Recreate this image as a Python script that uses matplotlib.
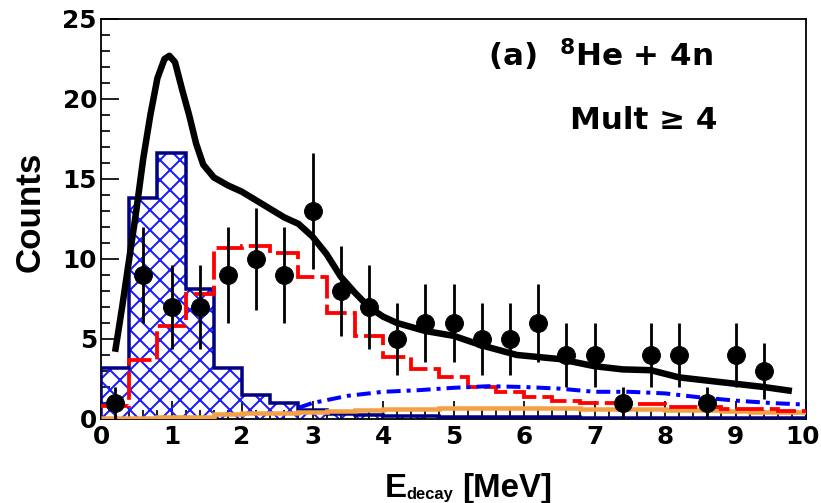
import numpy as np
import matplotlib
matplotlib.use("Agg")
import matplotlib.pyplot as plt
from matplotlib.ticker import MultipleLocator, FuncFormatter

DPI = 60


def px(v):
    # size in pixels -> points for this dpi
    return v * 72.0 / DPI


plt.rcParams['font.family'] = ['DejaVu Sans']
plt.rcParams['font.weight'] = 'bold'
plt.rcParams['mathtext.fontset'] = 'custom'
plt.rcParams['mathtext.rm'] = 'DejaVu Sans:bold'
plt.rcParams['mathtext.bf'] = 'DejaVu Sans:bold'
plt.rcParams['mathtext.it'] = 'DejaVu Sans:bold'
plt.rcParams['hatch.linewidth'] = px(2.0)

# bin edges (0.4 MeV bins)
edges = np.linspace(0, 10, 26)

# measured spectrum
e_pts = [0.2, 0.6, 1.0, 1.4, 1.8, 2.2, 2.6, 3.0, 3.4, 3.8, 4.2, 4.6,
         5.0, 5.4, 5.8, 6.2, 6.6, 7.0, 7.4, 7.8, 8.2, 8.6, 9.0, 9.4]
counts = [1, 9, 7, 7, 9, 10, 9, 13, 8, 7, 5, 6,
          6, 5, 5, 6, 4, 4, 1, 4, 4, 1, 4, 3]

# simulated components
blue_hist = [3.2, 13.8, 16.6, 8.1, 3.2, 1.5, 1.0, 0.55, 0.3, 0.25, 0.2, 0.2, 0.15,
             0.12, 0.1, 0.1, 0.1, 0.08, 0.08, 0.06, 0.05, 0.05, 0.05, 0.05, 0.05]
red_hist = [0.8, 3.7, 5.8, 7.8, 10.7, 10.8, 10.4, 8.9, 6.6, 5.2, 3.9, 3.1, 2.6,
            2.0, 1.7, 1.4, 1.1, 1.0, 1.0, 0.95, 0.75, 0.75, 0.6, 0.6, 0.5]
orange_hist = [0.05, 0.05, 0.1, 0.15, 0.3, 0.35, 0.4, 0.45, 0.5, 0.55, 0.6, 0.65, 0.7,
               0.7, 0.7, 0.7, 0.7, 0.65, 0.6, 0.6, 0.55, 0.55, 0.5, 0.45, 0.45]

dd_x = [2.8, 3.0, 3.5, 4.0, 4.5, 5.0, 5.5, 6.0, 6.5, 7.0, 7.5, 8.0, 8.5, 9.0, 9.5, 10.0]
dd_y = [0.7, 1.0, 1.45, 1.7, 1.8, 1.95, 2.05, 2.0, 1.9, 1.7, 1.7, 1.6, 1.35, 1.15, 1.0, 0.9]

sum_x = [0.2, 0.3, 0.4, 0.5, 0.6, 0.7, 0.8, 0.9, 0.97, 1.05, 1.15, 1.25, 1.35, 1.45,
         1.6, 1.8, 2.0, 2.3, 2.6, 2.8, 3.0, 3.2, 3.4, 3.6, 3.8, 4.0, 4.2, 4.6,
         5.0, 5.4, 5.9, 6.5, 7.0, 7.4, 7.8, 8.2, 8.6, 9.0, 9.4, 9.8]
sum_y = [4.2, 7.0, 10.0, 13.0, 16.3, 19.0, 21.3, 22.5, 22.7, 22.3, 20.6, 19.0, 17.2, 15.9,
         15.1, 14.6, 14.2, 13.4, 12.6, 12.2, 11.4, 10.3, 8.9, 7.9, 7.0, 6.4, 6.0, 5.5,
         5.2, 4.6, 4.0, 3.75, 3.3, 3.1, 3.05, 2.6, 2.4, 2.2, 2.0, 1.75]

W, H = 821, 503
fig = plt.figure(figsize=(W / DPI, H / DPI), dpi=DPI)
ax = fig.add_axes([101 / W, 1 - 419 / H, 705 / W, 400 / H])

# hatched histogram (hatch in blue, outline in navy)
ax.stairs(blue_hist, edges, fill=True, hatch='x', facecolor='none',
          edgecolor='#1a1aff', linewidth=0, zorder=2)
ax.stairs(blue_hist, edges, color='#000080', linewidth=px(3.5), zorder=3)

ax.stairs(orange_hist, edges, baseline=None, color='#f4a044', linewidth=px(4.5), zorder=3)
ax.stairs(red_hist, edges, baseline=None, color='#ff0000', linewidth=px(3.8),
          linestyle=(0, (7.4, 1.6)), zorder=4)
ax.plot(dd_x, dd_y, color='#0000ff', linewidth=px(4),
        linestyle=(0, (3.5, 1.5, 1, 1.5)), zorder=4)
ax.plot(sum_x, sum_y, color='black', linewidth=px(6.5), zorder=5,
        solid_capstyle='butt', solid_joinstyle='round')

err = np.sqrt(counts)
ax.errorbar(e_pts, counts, yerr=err, fmt='o', color='black', markersize=px(18),
            elinewidth=px(2.8), capsize=0, zorder=6)

ax.set_xlim(0, 10)
ax.set_ylim(0, 25)
ax.xaxis.set_major_locator(MultipleLocator(1))
ax.xaxis.set_minor_locator(MultipleLocator(0.2))
# the "10" label is placed by hand below so it stays inside the canvas
ax.xaxis.set_major_formatter(FuncFormatter(lambda v, p: '' if v >= 10 else f'{v:g}'))
ax.yaxis.set_major_locator(MultipleLocator(5))
ax.yaxis.set_minor_locator(MultipleLocator(1))
ax.tick_params(which='both', direction='in', top=False, right=False, width=px(1.7))
ax.tick_params(which='major', length=px(18), labelsize=px(24.7))
ax.tick_params(axis='y', which='major', pad=px(4))
ax.tick_params(axis='x', which='major', pad=px(6))
ax.tick_params(which='minor', length=px(9))
for s in ax.spines.values():
    s.set_linewidth(px(1.8))

fig.text(820 / W, 1 - 425 / H, '10', fontsize=px(24.7), fontweight='bold',
         ha='right', va='top')

# axis titles
fig.text(30 / W, 1 - 212 / H, 'Counts', fontsize=px(35), family='Liberation Sans',
         fontweight='bold', rotation=90, ha='center', va='center')
fig.text(385 / W, 1 - 497 / H, 'E', fontsize=px(33), family='Liberation Sans',
         fontweight='bold', ha='left', va='baseline')
fig.text(406 / W, 1 - 499 / H, 'decay', fontsize=px(16.5), family='Liberation Sans',
         fontweight='bold', ha='left', va='baseline')
fig.text(462 / W, 1 - 497 / H, '[MeV]', fontsize=px(33), family='Liberation Sans',
         fontweight='bold', ha='left', va='baseline')

fig.text(488 / W, 1 - 66 / H, r'(a)  $^{\mathbf{8}}$He + 4n', fontsize=px(31),
         fontweight='bold', ha='left', va='baseline')
fig.text(570 / W, 1 - 129 / H, 'Mult \u2265 4', fontsize=px(31),
         fontweight='bold', ha='left', va='baseline')

fig.savefig('out.png', dpi=DPI)
